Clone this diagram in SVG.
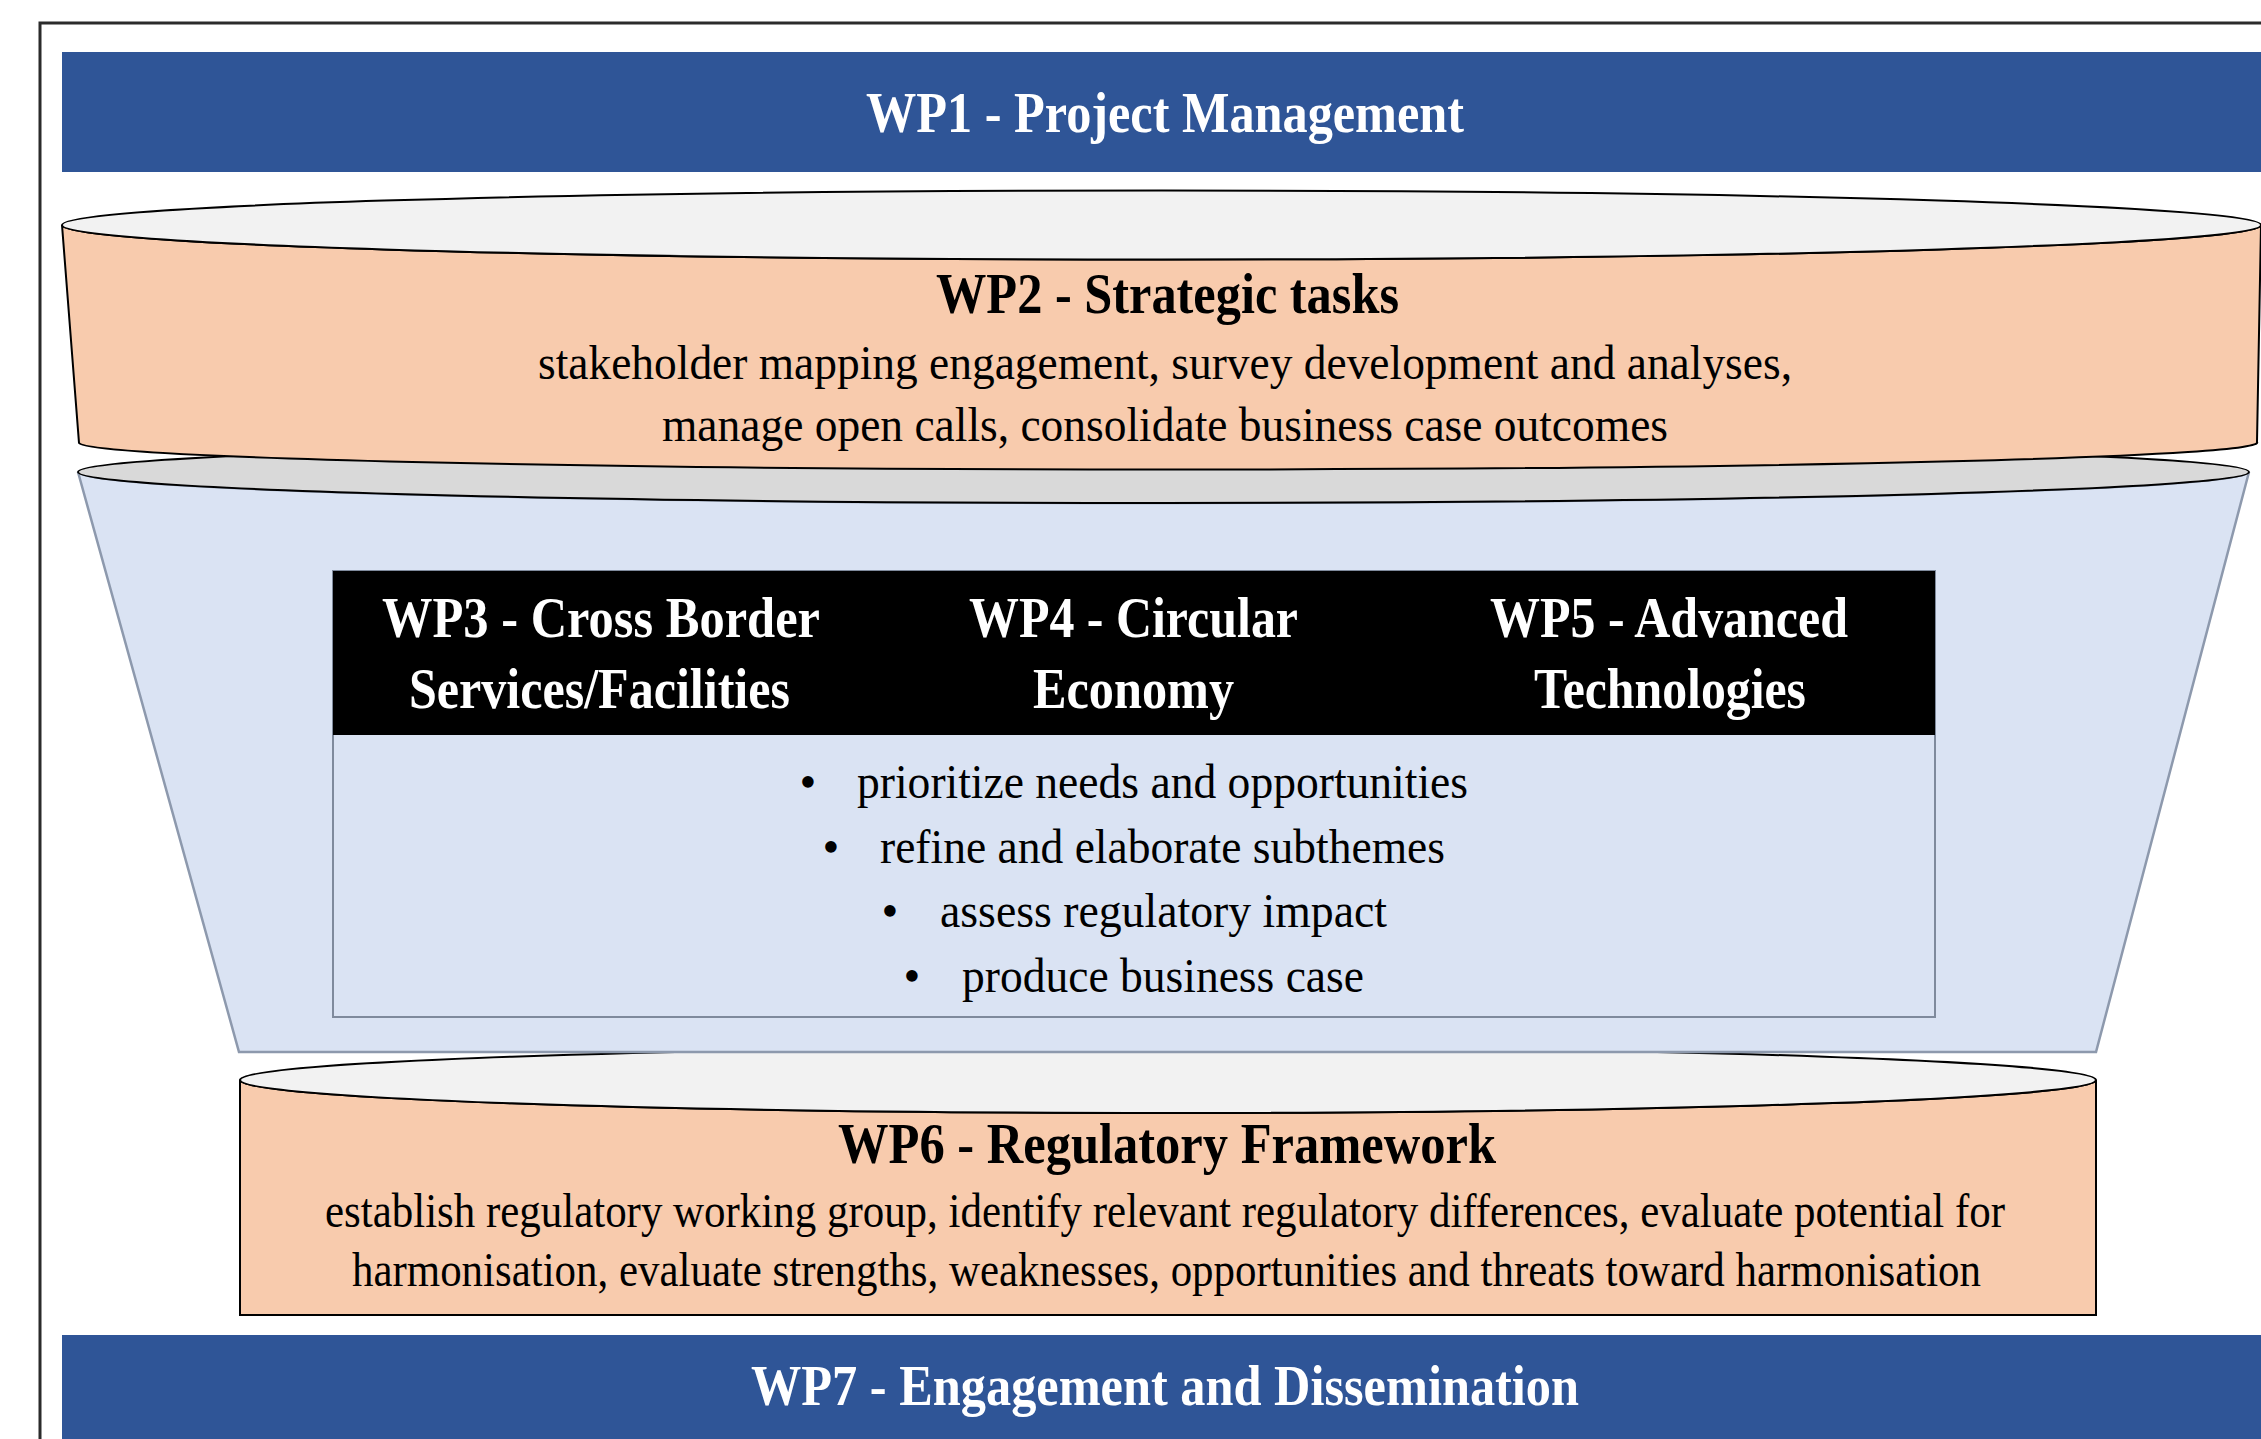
<svg xmlns="http://www.w3.org/2000/svg" width="2261" height="1439" viewBox="0 0 2261 1439">
<style>
  text { font-family: "Liberation Serif", "Times New Roman", serif; }
  .bold { font-weight: bold; }
  .white { fill: #FFFFFF; }
  .black { fill: #000000; }
  .t58 { font-size: 58px; }
  .t56 { font-size: 56px; }
  .t48 { font-size: 48px; }
  .bar { fill: #2F5597; }
  .peach { fill: #F8CBAD; stroke: #000000; stroke-width: 2; }
  .cap { fill: #F2F2F2; stroke: #000000; stroke-width: 2; }
  .greycap { fill: #D9D9D9; stroke: #000000; stroke-width: 2; }
  .funnel { fill: #DAE3F3; stroke: #8D99AD; stroke-width: 2.5; }
  .inner { fill: #DAE3F3; stroke: #7F8A9C; stroke-width: 2; }
</style>
<rect x="0" y="0" width="2261" height="1439" fill="#FFFFFF"/>
<rect x="40" y="23" width="2300" height="1500" fill="none" stroke="#2B2B2B" stroke-width="3"/>

<g id="connectors"></g>

<g id="wp6">
  <path class="peach" d="M 240 1080 L 240 1315 L 2096 1315 L 2096 1080 A 928 33 0 0 1 240 1080 Z"/>
  <ellipse class="cap" cx="1168" cy="1080" rx="928" ry="33"/>
  <text class="bold black t56" x="838" y="1163" textLength="658" lengthAdjust="spacingAndGlyphs">WP6 - Regulatory Framework</text>
  <text class="black t48" x="325" y="1227" textLength="1680" lengthAdjust="spacingAndGlyphs">establish regulatory working group, identify relevant regulatory differences, evaluate potential for</text>
  <text class="black t48" x="352" y="1286" textLength="1629" lengthAdjust="spacingAndGlyphs">harmonisation, evaluate strengths, weaknesses, opportunities and threats toward harmonisation</text>
</g>

<g id="funnel">
  <path class="funnel" d="M 78 472 L 239 1052 L 2096 1052 L 2249 472 A 1085.5 31 0 0 1 78 472 Z"/>
  <ellipse class="greycap" cx="1163.5" cy="472" rx="1085.5" ry="31"/>
</g>

<g id="wp3-5">
  <rect class="inner" x="333" y="571" width="1602" height="446"/>
  <rect x="333" y="571" width="1602" height="164" fill="#000000"/>
  <text class="bold white t56" x="382" y="637" textLength="438" lengthAdjust="spacingAndGlyphs">WP3 - Cross Border</text>
  <text class="bold white t56" x="409" y="708" textLength="381" lengthAdjust="spacingAndGlyphs">Services/Facilities</text>
  <text class="bold white t56" x="969" y="637" textLength="329" lengthAdjust="spacingAndGlyphs">WP4 - Circular</text>
  <text class="bold white t56" x="1033" y="708" textLength="201" lengthAdjust="spacingAndGlyphs">Economy</text>
  <text class="bold white t56" x="1490" y="637" textLength="358" lengthAdjust="spacingAndGlyphs">WP5 - Advanced</text>
  <text class="bold white t56" x="1534" y="708" textLength="272" lengthAdjust="spacingAndGlyphs">Technologies</text>
  <text class="black t48" x="808" y="798" text-anchor="middle">•</text>
  <text class="black t48" x="857" y="798" textLength="611" lengthAdjust="spacingAndGlyphs">prioritize needs and opportunities</text>
  <text class="black t48" x="831" y="863" text-anchor="middle">•</text>
  <text class="black t48" x="880" y="863" textLength="565" lengthAdjust="spacingAndGlyphs">refine and elaborate subthemes</text>
  <text class="black t48" x="890" y="927" text-anchor="middle">•</text>
  <text class="black t48" x="940" y="927" textLength="447" lengthAdjust="spacingAndGlyphs">assess regulatory impact</text>
  <text class="black t48" x="912" y="992" text-anchor="middle">•</text>
  <text class="black t48" x="962" y="992" textLength="402" lengthAdjust="spacingAndGlyphs">produce business case</text>
</g>

<g id="wp2">
  <path class="peach" d="M 62 225 L 79 443 A 1089 27 0 0 0 2257 442 L 2261 225 A 1099.5 34.5 0 0 1 62 225 Z"/>
  <ellipse class="cap" cx="1161.5" cy="225" rx="1099.5" ry="34.5"/>
  <text class="bold black t56" x="936" y="313" textLength="463" lengthAdjust="spacingAndGlyphs">WP2 - Strategic tasks</text>
  <text class="black t48" x="538" y="379" textLength="1254" lengthAdjust="spacingAndGlyphs">stakeholder mapping engagement, survey development and analyses,</text>
  <text class="black t48" x="662" y="441" textLength="1006" lengthAdjust="spacingAndGlyphs">manage open calls, consolidate business case outcomes</text>
</g>

<g id="wp1">
  <rect class="bar" x="62" y="52" width="2210" height="120"/>
  <text class="bold white t58" x="866" y="132" textLength="598" lengthAdjust="spacingAndGlyphs">WP1 - Project Management</text>
</g>

<g id="wp7">
  <rect class="bar" x="62" y="1335" width="2210" height="120"/>
  <text class="bold white t58" x="751" y="1405" textLength="828" lengthAdjust="spacingAndGlyphs">WP7 - Engagement and Dissemination</text>
</g>
</svg>
